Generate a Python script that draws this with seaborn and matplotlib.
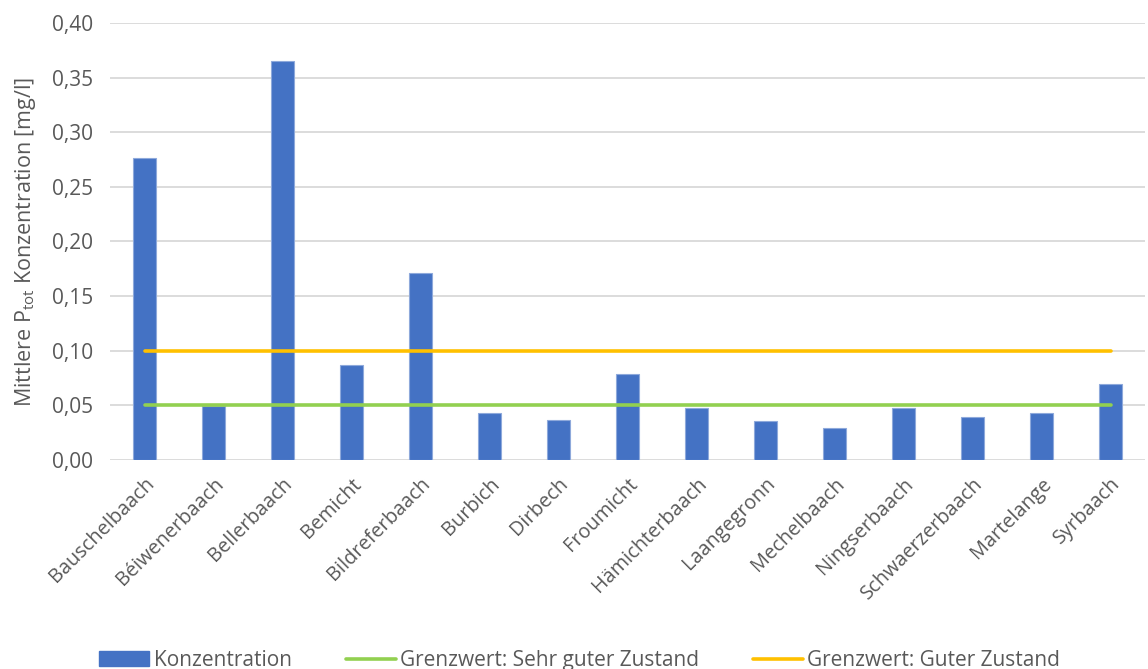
import matplotlib
matplotlib.use("Agg")
import matplotlib.pyplot as plt
import seaborn as sns
import pandas as pd
from matplotlib.lines import Line2D
from matplotlib.patches import Patch

categories = ["Bauschelbaach", "Béiwenerbaach", "Bellerbaach", "Bemicht", "Bildreferbaach",
              "Burbich", "Dirbech", "Froumicht", "Hämichterbaach", "Laangegronn",
              "Mechelbaach", "Ningserbaach", "Schwaerzerbaach", "Martelange", "Syrbaach"]
konzentration = [0.276, 0.049, 0.365, 0.087, 0.171, 0.043, 0.037, 0.079, 0.048, 0.036,
                 0.029, 0.048, 0.039, 0.043, 0.070]
grenz_sehr_gut = [0.05] * len(categories)
grenz_gut = [0.10] * len(categories)
yticks = [0.0, 0.05, 0.10, 0.15, 0.20, 0.25, 0.30, 0.35, 0.40]

sns.set_theme(style="white")
plt.rcParams['font.family'] = ['Open Sans', 'DejaVu Sans']
txt = '#595959'

df = pd.DataFrame({"Gewässer": categories, "Konzentration": konzentration,
                   "sehr": grenz_sehr_gut, "gut": grenz_gut})

fig = plt.figure(figsize=(11.48, 6.69), dpi=100)
ax = fig.add_axes([110/1148, 1-460/669, 1035/1148, 437/669])

sns.barplot(data=df, x="Gewässer", y="Konzentration", color='#4472C4', saturation=1,
            width=0.32, edgecolor='#8EA9DB', linewidth=0.8, ax=ax, zorder=2)
sns.lineplot(data=df, x="Gewässer", y="sehr", color='#92D050', linewidth=2.6, ax=ax,
             zorder=3, sort=False)
sns.lineplot(data=df, x="Gewässer", y="gut", color='#FFC000', linewidth=2.6, ax=ax,
             zorder=3, sort=False)

ax.set_ylim(0, 0.40)
ax.set_xlim(-0.5, len(categories) - 0.5)
ax.set_yticks(yticks)
ax.set_yticklabels([f"{v:.2f}".replace('.', ',') for v in yticks], fontsize=15, color=txt)
ax.yaxis.grid(True, color='#D9D9D9', linewidth=1.3, zorder=0)
ax.set_axisbelow(True)
for s in ax.spines.values():
    s.set_visible(False)
ax.tick_params(axis='y', length=0, pad=12)
ax.tick_params(axis='x', length=0, pad=10)
ax.set_xticks(range(len(categories)))
ax.set_xticklabels(categories, rotation=45, ha='right', rotation_mode='anchor',
                   fontsize=14.3, color=txt)
ax.set_xlabel("")
ax.set_ylabel(r"Mittlere P$_\mathregular{tot}$ Konzentration [mg/l]", fontsize=15.5, color=txt,
              labelpad=10)

handles = [Patch(facecolor='#4472C4', edgecolor='#4472C4'),
           Line2D([0], [0], color='#92D050', linewidth=2.6),
           Line2D([0], [0], color='#FFC000', linewidth=2.6)]
labels = ["Konzentration", "Grenzwert: Sehr guter Zustand", "Grenzwert: Guter Zustand"]
leg = fig.legend(handles, labels, loc='lower center', bbox_to_anchor=(0.505, -0.031), ncol=3,
                 frameon=False, fontsize=15, handlelength=2.4, handleheight=0.7,
                 columnspacing=2.6, handletextpad=0.2)
for t in leg.get_texts():
    t.set_color(txt)

fig.savefig("out.png", dpi=100)
